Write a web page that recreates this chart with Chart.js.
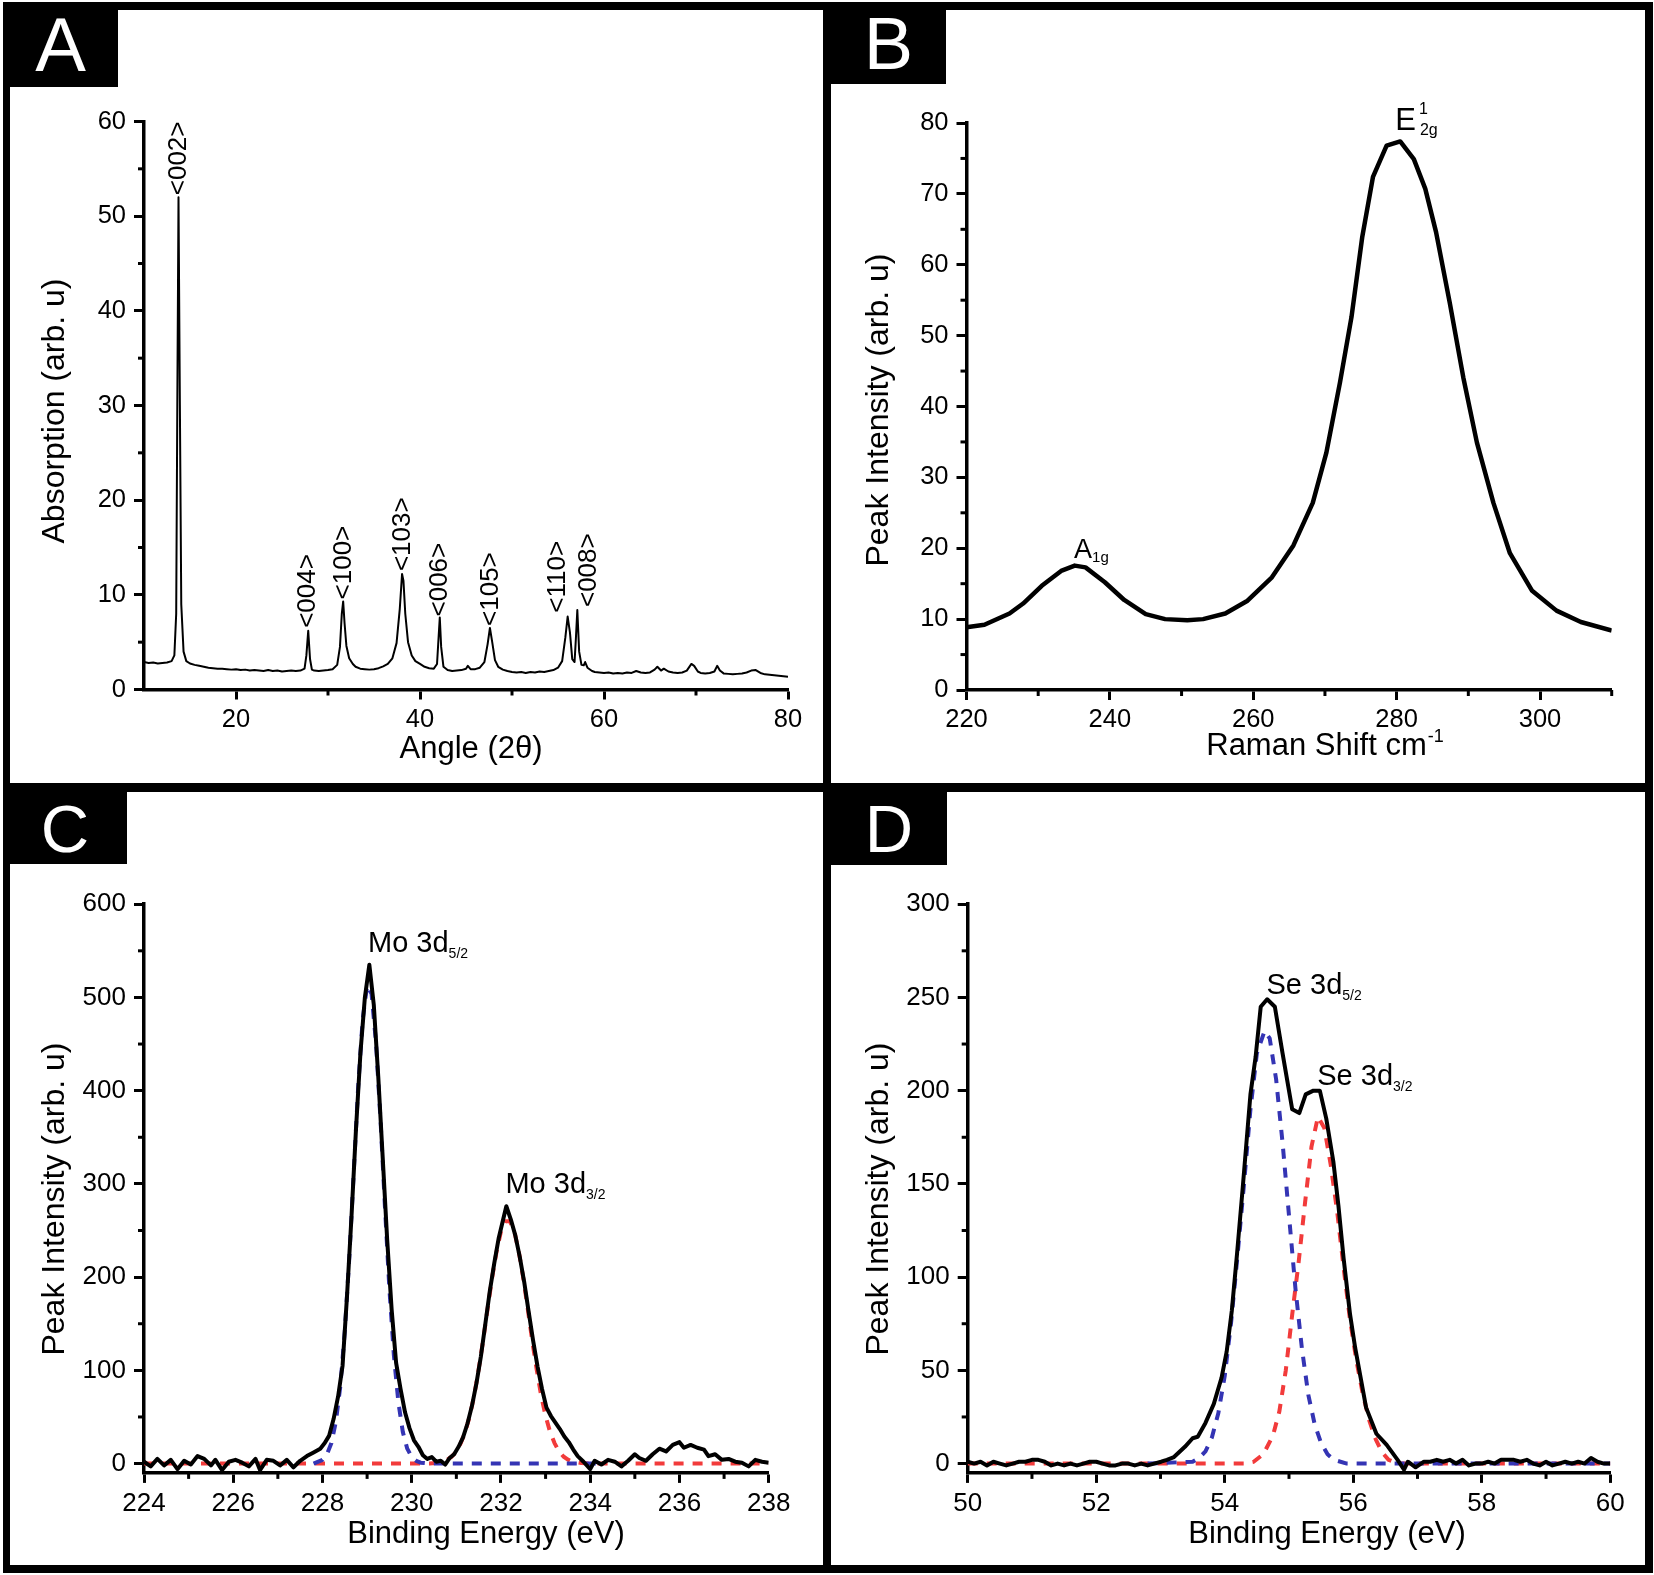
<!DOCTYPE html>
<html><head><meta charset="utf-8">
<script src="https://cdn.jsdelivr.net/npm/chart.js@4.4.1/dist/chart.umd.min.js"></script>
<style>
html,body{margin:0;padding:0;background:#fff;}
#page{position:relative;width:1654px;height:1575px;background:#fff;overflow:hidden;}
.bar{position:absolute;background:#000;}
.lab{position:absolute;background:#000;color:#fff;display:flex;align-items:center;justify-content:center;font-family:"Liberation Sans",Arial,sans-serif;line-height:1;}
canvas{position:absolute;}
</style></head><body>
<div id="page">
<canvas id="cA" width="813" height="773" style="left:10px;top:10px;width:813px;height:773px"></canvas>
<canvas id="cB" width="815" height="773" style="left:831px;top:10px;width:815px;height:773px"></canvas>
<canvas id="cC" width="813" height="774" style="left:10px;top:792px;width:813px;height:774px"></canvas>
<canvas id="cD" width="815" height="774" style="left:831px;top:792px;width:815px;height:774px"></canvas>
<div class="bar" style="left:3px;top:2px;width:7px;height:1571px"></div>
<div class="bar" style="left:3px;top:2px;width:1650px;height:8px"></div>
<div class="bar" style="left:1645px;top:2px;width:8px;height:1571px"></div>
<div class="bar" style="left:3px;top:1565px;width:1650px;height:8px"></div>
<div class="bar" style="left:823px;top:2px;width:8px;height:1571px"></div>
<div class="bar" style="left:3px;top:783px;width:1650px;height:9px"></div>
<div class="lab" style="left:3px;top:2px;width:115px;height:85px;font-size:76px">A</div>
<div class="lab" style="left:831px;top:3px;width:115px;height:81px;font-size:74px">B</div>
<div class="lab" style="left:3px;top:792px;width:124px;height:72px;font-size:67px">C</div>
<div class="lab" style="left:831px;top:792px;width:116px;height:73px;font-size:67px">D</div>
</div>
<script>
// ---------- DATA ----------
const xrdData = [
[10.0,2.9],[10.5,2.8],[11.0,2.85],[11.5,2.75],[12.0,2.8],[12.5,2.85],[13.0,3.0],[13.3,3.6],[13.5,8],[13.62,30],[13.75,52],[13.9,30],[14.05,9],[14.3,4.0],[14.6,3.0],[15.0,2.75],[15.5,2.6],[16.0,2.5],[16.5,2.4],[17.0,2.3],[17.5,2.25],[18.0,2.2],[18.5,2.2],[19.0,2.15],[19.5,2.1],[20.0,2.15],[20.5,2.05],[21.0,2.1],[21.5,2.0],[22.0,2.05],[22.5,2.0],[23.0,1.95],[23.5,2.05],[24.0,1.95],[24.5,2.0],[25.0,1.9],[25.5,1.95],[26.0,2.0],[26.5,1.95],[27.0,2.0],[27.45,2.2],[27.65,3.6],[27.85,6.2],[28.05,3.2],[28.25,2.1],[28.5,2.0],[29.0,1.95],[29.5,2.0],[30.0,2.05],[30.5,2.15],[31.0,2.6],[31.3,4.5],[31.5,8.0],[31.65,9.3],[31.8,7.0],[32.0,4.6],[32.3,3.3],[32.7,2.7],[33.0,2.4],[33.5,2.2],[34.0,2.15],[34.5,2.1],[35.0,2.15],[35.5,2.25],[36.0,2.45],[36.5,2.7],[37.0,3.3],[37.45,4.9],[37.8,8.5],[38.05,12.2],[38.2,11.5],[38.4,8.0],[38.7,5.0],[39.1,3.6],[39.5,3.0],[40.0,2.7],[40.5,2.4],[41.0,2.25],[41.5,2.2],[41.85,2.7],[42.05,6.0],[42.15,7.6],[42.3,4.5],[42.55,2.4],[43.0,2.05],[43.5,1.95],[44.0,2.0],[44.5,2.05],[45.0,2.2],[45.2,2.5],[45.5,2.15],[46.0,2.15],[46.5,2.3],[47.0,2.9],[47.35,4.8],[47.6,6.5],[47.85,5.0],[48.15,3.1],[48.5,2.4],[49.0,2.1],[49.5,1.95],[50.0,1.85],[50.5,1.8],[51.0,1.85],[51.5,1.75],[52.0,1.85],[52.5,1.8],[53.0,1.9],[53.5,1.85],[54.0,1.95],[54.5,2.05],[55.0,2.3],[55.45,3.0],[55.8,5.5],[56.05,7.7],[56.3,6.0],[56.55,3.2],[56.8,2.9],[56.95,5.5],[57.1,8.4],[57.3,4.0],[57.55,2.6],[57.8,2.55],[57.95,2.9],[58.2,2.3],[58.7,1.95],[59.0,1.85],[59.5,1.8],[60.0,1.75],[60.5,1.8],[61.0,1.7],[61.5,1.75],[62.0,1.7],[62.5,1.8],[63.0,1.75],[63.5,1.95],[64.0,1.8],[64.5,1.75],[65.0,1.8],[65.5,2.1],[65.8,2.4],[66.2,2.0],[66.5,2.2],[67.0,1.9],[67.5,1.8],[68.0,1.75],[68.5,1.8],[69.0,2.0],[69.5,2.7],[69.8,2.5],[70.2,1.9],[70.5,1.75],[71.0,1.7],[71.5,1.75],[72.0,1.9],[72.3,2.5],[72.6,2.0],[73.0,1.7],[73.5,1.65],[74.0,1.6],[74.5,1.65],[75.0,1.7],[75.5,1.8],[76.0,2.0],[76.5,2.05],[77.0,1.75],[77.5,1.6],[78.0,1.55],[78.5,1.5],[79.0,1.45],[79.5,1.4],[80.0,1.35]
];
const xrdLabelText = ['<002>','<004>','<100>','<103>','<006>','<105>','<110>','<008>'];
const xrdLabelX = [13.8,27.85,31.67,38.1,42.15,47.65,55.0,58.35];
const xrdLabelY = [52.0,6.3,9.3,12.3,7.5,6.5,7.9,8.5];

const ramanData = [
[220,8.85],[222.5,9.2],[226,10.8],[227.9,12.2],[230.5,14.7],[233.2,16.8],[235.1,17.55],[236.6,17.3],[239.3,15.2],[242,12.7],[245,10.7],[247.7,10.0],[250.8,9.85],[253,10.0],[256.1,10.8],[259.2,12.6],[262.6,15.9],[265.6,20.4],[268.3,26.4],[270.2,33.5],[272.1,43.4],[273.7,52.6],[275.2,63.9],[276.7,72.4],[278.6,76.8],[280.5,77.4],[282.4,74.9],[284,70.7],[285.5,64.6],[287.4,54.7],[289.3,44.1],[291.2,34.9],[293.5,26.4],[295.8,19.3],[298.9,14.0],[302.3,11.2],[305.7,9.6],[310,8.4]
];
const ramanLabelX = [235.0, 279.8];
const ramanLabelY = [18.6, 79.0];

const moTotal = [
[224.0,2],[224.15,-3],[224.3,5],[224.45,-2],[224.6,4],[224.75,-6],[224.9,3],[225.05,-1],[225.2,8],[225.35,5],[225.5,-2],[225.6,4],[225.75,-7],[225.9,2],[226.05,4],[226.2,1],[226.35,-3],[226.5,5],[226.6,-7],[226.75,4],[226.9,3],[227.05,-2],[227.2,4],[227.35,-4],[227.5,3],[227.65,8],[227.8,12],[227.95,16],[228.05,22],[228.15,30],[228.25,48],[228.35,72],[228.45,105],[228.55,180],[228.65,265],[228.75,358],[228.85,440],[228.95,500],[229.05,535],[229.15,492],[229.25,415],[229.35,328],[229.45,240],[229.55,165],[229.65,108],[229.75,80],[229.85,55],[229.95,38],[230.05,25],[230.15,18],[230.25,9],[230.35,5],[230.45,7],[230.55,2],[230.65,3],[230.75,-1],[230.85,6],[230.95,10],[231.05,18],[231.15,28],[231.25,43],[231.35,62],[231.45,86],[231.55,115],[231.65,150],[231.75,185],[231.85,215],[231.95,242],[232.05,262],[232.12,276],[232.22,262],[232.32,245],[232.42,222],[232.52,195],[232.62,163],[232.72,132],[232.82,104],[232.92,80],[233.02,60],[233.12,51],[233.22,44],[233.32,37],[233.42,29],[233.52,23],[233.62,15],[233.72,8],[233.85,2],[234.0,-6],[234.1,3],[234.25,-1],[234.4,4],[234.55,2],[234.7,-3],[234.85,3],[235.0,10],[235.1,6],[235.25,3],[235.4,10],[235.55,16],[235.7,13],[235.85,20],[236.0,23],[236.1,17],[236.25,20],[236.4,17],[236.55,15],[236.65,8],[236.8,10],[236.95,4],[237.1,5],[237.25,2],[237.4,1],[237.55,-3],[237.7,4],[237.85,2],[238.0,1]
];
const moFit52 = [
[227.8,0],[228.0,4],[228.1,10],[228.2,22],[228.3,45],[228.4,83],[228.5,142],[228.6,220],[228.7,312],[228.8,404],[228.9,476],[229.0,513],[229.1,504],[229.2,451],[229.3,369],[229.4,275],[229.5,187],[229.6,116],[229.7,66],[229.8,34],[229.9,16],[230.0,7],[230.1,3],[230.2,1],[230.4,0],[234.2,0]
];
const moFit32 = [
[224,0],[230.4,0],[230.6,1],[230.7,2.2],[230.8,4.3],[230.9,7.6],[231.0,13],[231.1,22],[231.2,34],[231.3,51],[231.4,73],[231.5,101],[231.6,132],[231.7,166],[231.8,199],[231.9,227],[232.0,249],[232.1,260],[232.2,260],[232.3,249],[232.4,227],[232.5,199],[232.6,166],[232.7,132],[232.8,101],[232.9,73],[233.0,51],[233.1,34],[233.2,22],[233.3,13],[233.4,7.6],[233.5,4.3],[233.6,2.2],[233.8,0.5],[234.0,0],[238,0]
];
const moLabelX = [229.02, 232.1];
const moLabelY = [549, 290];

const seTotal = [
[50.0,1],[50.1,0],[50.2,1],[50.3,-1],[50.4,1],[50.5,0],[50.6,-1],[50.7,0],[50.8,1],[50.9,1],[51.0,2],[51.1,2],[51.2,1],[51.3,-1],[51.4,0],[51.5,-1],[51.6,0],[51.7,-1],[51.8,0],[51.9,1],[52.0,1],[52.1,0],[52.2,-1],[52.3,-1],[52.4,0],[52.5,0],[52.6,-1],[52.7,0],[52.8,-1],[52.9,0],[53.01,1],[53.1,2],[53.21,3.5],[53.38,9],[53.5,13.6],[53.58,14.4],[53.7,21.8],[53.83,32],[53.95,46],[54.03,60],[54.11,82],[54.19,112],[54.28,148],[54.4,198],[54.48,218],[54.56,245],[54.66,249],[54.78,245],[54.9,220],[55.05,190],[55.16,188],[55.26,198],[55.38,200],[55.48,200],[55.58,185],[55.69,162],[55.77,138],[55.85,110],[55.95,80],[56.03,62],[56.2,30],[56.36,16],[56.52,10],[56.69,2],[56.79,-3.3],[56.85,1],[56.97,-2],[57.1,1],[57.2,1],[57.3,2],[57.4,1],[57.5,2],[57.6,0],[57.7,2],[57.8,-1],[57.9,0],[58.0,0],[58.1,1],[58.2,0],[58.3,2],[58.4,2],[58.5,2],[58.6,1],[58.7,2],[58.8,0],[58.9,-1],[59.0,1],[59.1,-1],[59.2,0],[59.3,1],[59.4,0],[59.5,1],[59.6,0],[59.7,3],[59.8,1],[59.9,0],[60.0,0]
];
const seFit52 = [
[52.8,0],[53.5,1],[53.6,3],[53.7,6.5],[53.8,14],[53.9,27],[54.0,47],[54.1,76],[54.2,112],[54.3,150],[54.4,190],[54.5,220],[54.62,232],[54.7,228],[54.8,206],[54.9,172],[55.0,133],[55.1,94],[55.2,62],[55.3,37],[55.4,21],[55.5,11],[55.6,5],[55.7,2],[55.9,0],[60,0]
];
const seFit32 = [
[50,0],[54.3,0],[54.45,1],[54.6,5],[54.75,15],[54.85,28],[54.95,50],[55.05,80],[55.15,108],[55.25,140],[55.35,170],[55.45,186],[55.55,180],[55.65,160],[55.75,135],[55.85,105],[55.95,77],[56.05,55],[56.15,37],[56.25,23],[56.35,13],[56.45,6],[56.55,2],[56.7,0],[60,0]
];
const seLabelX = [54.65, 55.44];
const seLabelY = [252, 203];

// tick values
const xrdXTicks = [20,40,60,80], xrdXMinor = [30,50,70];
const xrdYTicks = [0,10,20,30,40,50,60], xrdYMinor = [5,15,25,35,45,55];
const ramanXTicks = [220,240,260,280,300], ramanXMinor = [230,250,270,290,310];
const ramanYTicks = [0,10,20,30,40,50,60,70,80], ramanYMinor = [5,15,25,35,45,55,65,75];
const moXTicks = [224,226,228,230,232,234,236,238], moXMinor = [225,227,229,231,233,235,237];
const moYTicks = [0,100,200,300,400,500,600], moYMinor = [50,150,250,350,450,550];
const seXTicks = [50,52,54,56,58,60], seXMinor = [51,53,55,57,59];
const seYTicks = [0,50,100,150,200,250,300], seYMinor = [25,75,125,175,225,275];

// ---------- RENDER ----------
const FONT = '"Liberation Sans", Arial, sans-serif';
const BLUE = '#3434b4', RED = '#f23b3b';
const xy = arr => arr.map(p => ({x: p[0], y: p[1]}));

function measureRich(ctx, parts) {
  let cur = 0, anchor = 0;
  parts.forEach(p => {
    ctx.font = p.size + 'px ' + FONT;
    const w = ctx.measureText(p.text).width;
    if (!p.kind) { cur += w; anchor = cur; }
    else { cur = Math.max(cur, anchor + (p.dx || 0) + w); }
  });
  return cur;
}
function drawRich(ctx, x, y, parts) {
  let cur = x, anchor = x;
  ctx.textAlign = 'left'; ctx.textBaseline = 'alphabetic';
  parts.forEach(p => {
    ctx.font = p.size + 'px ' + FONT;
    const w = ctx.measureText(p.text).width;
    if (!p.kind) { ctx.fillText(p.text, cur, y); cur += w; anchor = cur; }
    else { const px = anchor + (p.dx || 0); ctx.fillText(p.text, px, y + (p.dy || 0)); cur = Math.max(cur, px + w); }
  });
}

const decor = {
  id: 'decor',
  afterDraw(chart, args, o) {
    const ctx = chart.ctx, xs = chart.scales.x, ys = chart.scales.y;
    ctx.save();
    ctx.fillStyle = '#000'; ctx.strokeStyle = '#000'; ctx.lineWidth = 3;
    (o.minorX || []).forEach(v => { const p = xs.getPixelForValue(v); ctx.beginPath(); ctx.moveTo(p, xs.top); ctx.lineTo(p, xs.top + 6); ctx.stroke(); });
    (o.minorY || []).forEach(v => { const p = ys.getPixelForValue(v); ctx.beginPath(); ctx.moveTo(ys.right, p); ctx.lineTo(ys.right - 6, p); ctx.stroke(); });
    // y title
    if (o.yTitle) {
      ctx.save(); ctx.translate(o.yTitle.x, o.yTitle.y); ctx.rotate(-Math.PI / 2);
      ctx.font = o.yTitle.size + 'px ' + FONT; ctx.textAlign = 'center'; ctx.textBaseline = 'middle';
      ctx.fillText(o.yTitle.text, 0, 0); ctx.restore();
    }
    if (o.xTitle) {
      const w = measureRich(ctx, o.xTitle.parts);
      drawRich(ctx, o.xTitle.x - w / 2, o.xTitle.y + o.xTitle.parts[0].size * 0.36, o.xTitle.parts);
    }
    // rotated peak labels
    (o.rotLabels || []).forEach(l => {
      const px = xs.getPixelForValue(l.x), py = ys.getPixelForValue(l.y);
      ctx.save(); ctx.translate(px, py - 2); ctx.rotate(-Math.PI / 2);
      ctx.font = l.size + 'px ' + FONT; ctx.textAlign = 'left'; ctx.textBaseline = 'middle';
      ctx.fillText(l.text, 0, 0); ctx.restore();
    });
    (o.richLabels || []).forEach(l => {
      drawRich(ctx, xs.getPixelForValue(l.x), ys.getPixelForValue(l.y), l.parts);
    });
    ctx.restore();
  }
};

function makeChart(id, c) {
  const axisCommon = (min, max, ticks, fitFn, pad) => ({
    type: 'linear', min: min, max: max,
    afterBuildTicks: s => { s.ticks = ticks.map(v => ({value: v})); },
    afterFit: fitFn,
    grid: {display: true, drawOnChartArea: false, drawTicks: true, tickLength: 10, tickWidth: 3, tickColor: '#000', color: '#000'},
    border: {display: true, color: '#000', width: 3.5},
    ticks: {color: '#000', font: {family: FONT, size: c.tickSize}, padding: pad, maxRotation: 0, autoSkip: false}
  });
  const x = axisCommon(c.xmin, c.xmax, c.xticks, s => { s.height = c.xH; }, 5);
  x.position = 'bottom';
  const y = axisCommon(c.ymin, c.ymax, c.yticks, s => { s.width = c.yW; }, 8);
  y.position = 'left';
  return new Chart(document.getElementById(id), {
    type: 'line',
    data: {datasets: c.datasets},
    options: {
      responsive: false, animation: false, events: [],
      layout: {padding: {left: 0, top: c.top, right: c.right, bottom: 0}},
      plugins: {legend: {display: false}, tooltip: {enabled: false}, title: {display: false}, decor: c.decor},
      elements: {point: {radius: 0}, line: {tension: 0, borderJoinStyle: 'round', borderCapStyle: 'butt'}},
      scales: {x: x, y: y}
    },
    plugins: [decor]
  });
}

// Panel A
makeChart('cA', {
  xmin: 10, xmax: 80, xticks: xrdXTicks, ymin: 0, ymax: 60, yticks: xrdYTicks,
  yW: 134, xH: 93.5, top: 111.5, right: 35, tickSize: 25.5,
  datasets: [{data: xy(xrdData), borderColor: '#000', borderWidth: 2, fill: false}],
  decor: {
    minorX: xrdXMinor, minorY: xrdYMinor,
    yTitle: {text: 'Absorption (arb. u)', x: 45, y: 401, size: 32},
    xTitle: {x: 461, y: 737, parts: [{text: 'Angle (2θ)', size: 31}]},
    rotLabels: xrdLabelText.map((t, i) => ({text: t, x: xrdLabelX[i], y: xrdLabelY[i], size: 26}))
  }
});

// Panel B
makeChart('cB', {
  xmin: 220, xmax: 310, xticks: ramanXTicks, ymin: 0, ymax: 80, yticks: ramanYTicks,
  yW: 135.5, xH: 93, top: 113, right: 34.3, tickSize: 25.5,
  datasets: [{data: xy(ramanData), borderColor: '#000', borderWidth: 4.5, fill: false}],
  decor: {
    minorX: ramanXMinor, minorY: ramanYMinor,
    yTitle: {text: 'Peak Intensity (arb. u)', x: 48, y: 400, size: 32},
    xTitle: {x: 494, y: 734, parts: [{text: 'Raman Shift cm', size: 31}, {text: '-1', size: 18, kind: 'sup', dx: 1, dy: -13}]},
    richLabels: [
      {x: ramanLabelX[0], y: ramanLabelY[0], parts: [{text: 'A', size: 27}, {text: '1g', size: 15, kind: 'sub', dx: 0, dy: 4}]},
      {x: ramanLabelX[1], y: ramanLabelY[1], parts: [{text: 'E', size: 31}, {text: '1', size: 16, kind: 'sup', dx: 3, dy: -16}, {text: '2g', size: 16, kind: 'sub', dx: 4, dy: 5}]}
    ]
  }
});

// Panel C
makeChart('cC', {
  xmin: 224, xmax: 238, xticks: moXTicks, ymin: -10, ymax: 600, yticks: moYTicks,
  yW: 134, xH: 93.1, top: 112.2, right: 54.3, tickSize: 26,
  datasets: [
    {data: xy(moTotal), borderColor: '#000', borderWidth: 4, fill: false},
    {data: xy(moFit52), borderColor: BLUE, borderWidth: 4, borderDash: [10, 9], fill: false},
    {data: xy(moFit32), borderColor: RED, borderWidth: 4, borderDash: [10, 9], fill: false}
  ],
  decor: {
    minorX: moXMinor, minorY: moYMinor,
    yTitle: {text: 'Peak Intensity (arb. u)', x: 45, y: 407, size: 32},
    xTitle: {x: 476, y: 740, parts: [{text: 'Binding Energy (eV)', size: 31}]},
    richLabels: [
      {x: moLabelX[0], y: moLabelY[0], parts: [{text: 'Mo 3d', size: 29}, {text: '5/2', size: 14, kind: 'sub', dx: 0, dy: 6}]},
      {x: moLabelX[1], y: moLabelY[1], parts: [{text: 'Mo 3d', size: 29}, {text: '3/2', size: 14, kind: 'sub', dx: 0, dy: 6}]}
    ]
  }
});

// Panel D
makeChart('cD', {
  xmin: 50, xmax: 60, xticks: seXTicks, ymin: -5, ymax: 300, yticks: seYTicks,
  yW: 136.7, xH: 93.1, top: 112.2, right: 35.7, tickSize: 26,
  datasets: [
    {data: xy(seTotal), borderColor: '#000', borderWidth: 4, fill: false},
    {data: xy(seFit52), borderColor: BLUE, borderWidth: 4, borderDash: [10, 9], fill: false},
    {data: xy(seFit32), borderColor: RED, borderWidth: 4, borderDash: [10, 9], fill: false}
  ],
  decor: {
    minorX: seXMinor, minorY: seYMinor,
    yTitle: {text: 'Peak Intensity (arb. u)', x: 48, y: 407, size: 32},
    xTitle: {x: 496, y: 740, parts: [{text: 'Binding Energy (eV)', size: 31}]},
    richLabels: [
      {x: seLabelX[0], y: seLabelY[0], parts: [{text: 'Se 3d', size: 29}, {text: '5/2', size: 14, kind: 'sub', dx: 0, dy: 6}]},
      {x: seLabelX[1], y: seLabelY[1], parts: [{text: 'Se 3d', size: 29}, {text: '3/2', size: 14, kind: 'sub', dx: 0, dy: 6}]}
    ]
  }
});
</script>
</body></html>
